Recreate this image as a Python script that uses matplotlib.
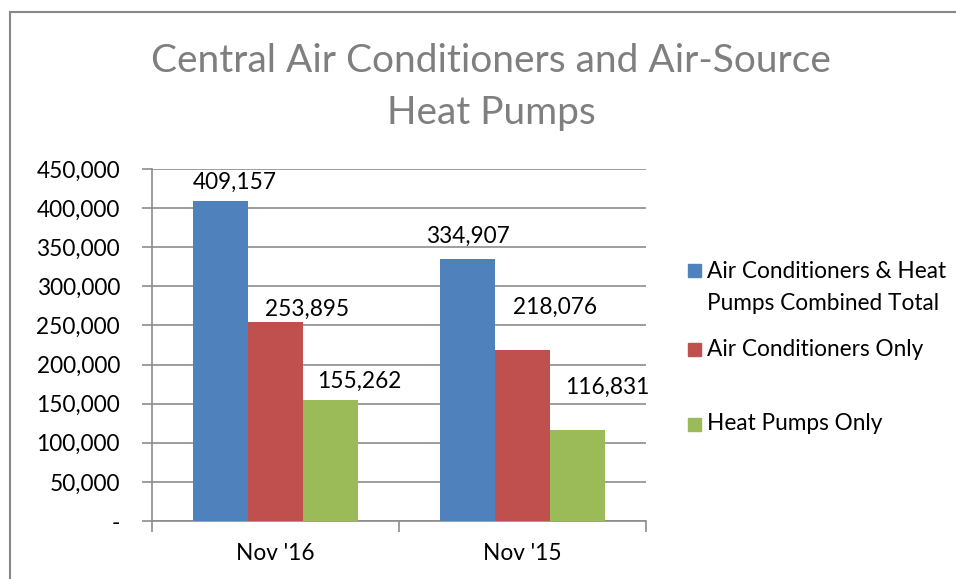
import matplotlib
matplotlib.use("Agg")
import matplotlib.pyplot as plt
from matplotlib.patches import Rectangle
from matplotlib.lines import Line2D
import numpy as np

categories = ["Nov '16", "Nov '15"]
series_names = ["Air Conditioners & Heat\nPumps Combined Total",
                "Air Conditioners Only",
                "Heat Pumps Only"]
combined = [409157, 334907]
ac_only = [253895, 218076]
hp_only = [155262, 116831]
yticks = [0, 50000, 100000, 150000, 200000, 250000, 300000, 350000, 400000, 450000]
ytick_labels = ["-", "50,000", "100,000", "150,000", "200,000", "250,000",
                "300,000", "350,000", "400,000", "450,000"]

# label offsets (pixels) from bar top-center, per series per category
label_offsets = [[(14, 19), (0, 23)],
                 [(32, 13), (32, 43)],
                 [(29, 18), (30, 42)]]

colors = ["#4F81BD", "#C0504D", "#9BBB59"]
FONT = "Lato"
plt.rcParams['font.family'] = [FONT, 'DejaVu Sans']
FS = 16.3

W, H = 956, 579
fig = plt.figure(figsize=(W/100, H/100), dpi=100)
ax = fig.add_axes([152/W, 1-521/H, (646-152)/W, (521-169)/H])

x = np.arange(len(categories))
bw = 55/247.0
series = [combined, ac_only, hp_only]
for i, (vals, c) in enumerate(zip(series, colors)):
    pos = x + (i-1)*bw
    ax.bar(pos, vals, width=bw, color=c, zorder=3)
    for j, (p, v) in enumerate(zip(pos, vals)):
        dx, dy = label_offsets[i][j]
        ax.annotate(f"{v:,}", (p, v), xytext=(dx, dy), textcoords="offset pixels",
                    ha="center", va="center", fontsize=FS, color="#000000",
                    annotation_clip=False)

ax.set_xlim(-0.5, 1.5)
ax.set_ylim(0, 450000)
ax.set_yticks(yticks)
ax.set_yticklabels(ytick_labels, fontsize=FS)
ax.yaxis.grid(True, color="#8C8C8C", linewidth=1.2, zorder=0)
ax.set_axisbelow(True)
ax.set_xticks([-0.5, 0.5, 1.5])
ax.set_xticklabels([])
ax.set_xticks(x, minor=True)
ax.set_xticklabels(categories, minor=True, fontsize=FS)
ax.tick_params(axis="x", which="minor", length=0, pad=16)
ax.tick_params(axis="x", which="major", length=8, color="#8C8C8C", width=1.2)
ax.tick_params(axis="y", length=7, color="#8C8C8C", width=1.2, pad=16)
for s in ["top", "right"]:
    ax.spines[s].set_visible(False)
for s in ["left", "bottom"]:
    ax.spines[s].set_color("#8C8C8C")
    ax.spines[s].set_linewidth(1.2)

# title
fig.text(491/W, 1-61/H, "Central Air Conditioners and Air-Source", ha="center", va="center",
         fontsize=28, color="#7F7F7F")
fig.text(491/W, 1-113/H, "Heat Pumps", ha="center", va="center",
         fontsize=28, color="#7F7F7F")

# chart border
fig.add_artist(Line2D([10/W, 10/W], [0, 1-12/H], transform=fig.transFigure, color="#888888", lw=1.5))
fig.add_artist(Line2D([10/W, 1], [1-12/H, 1-12/H], transform=fig.transFigure, color="#888888", lw=1.5))

# legend
legend_rows = [[(271, "Air Conditioners & Heat"), (303, "Pumps Combined Total")],
               [(349, "Air Conditioners Only")],
               [(424, "Heat Pumps Only")]]
for rows, c in zip(legend_rows, colors):
    y0 = rows[0][0]
    fig.add_artist(Rectangle((688/W, 1-(y0+6.5)/H), 13/W, 13/H,
                             transform=fig.transFigure, color=c))
    for ly, txt in rows:
        fig.text(707/W, 1-ly/H, txt, ha="left", va="center", fontsize=FS)

fig.savefig("out.png", dpi=100)
